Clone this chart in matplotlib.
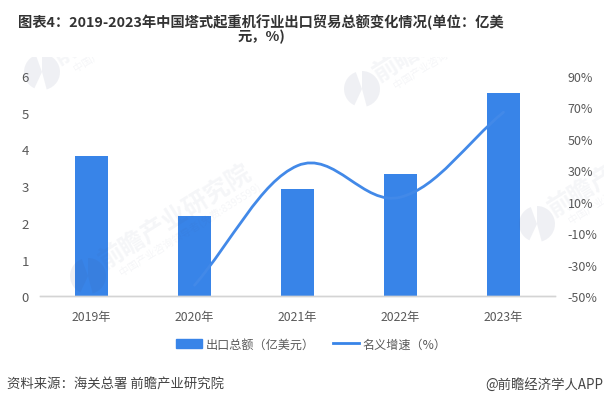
import numpy as np
import matplotlib
matplotlib.use("Agg")
import matplotlib.pyplot as plt
from matplotlib.patches import Wedge, Rectangle, PathPatch
from matplotlib.path import Path
from matplotlib.lines import Line2D

plt.rcParams['font.family'] = ['Noto Sans CJK SC', 'DejaVu Sans']

# ====== DATA ======
years = ['2019年', '2020年', '2021年', '2022年', '2023年']
export_total = [3.82, 2.18, 2.92, 3.33, 5.54]
growth_years = [1, 2, 3, 4]
growth_rate = [-43, 33, 13, 67]
left_ticks = [0, 1, 2, 3, 4, 5, 6]
right_ticks = [-50, -30, -10, 10, 30, 50, 70, 90]

title_text = '图表4：2019-2023年中国塔式起重机行业出口贸易总额变化情况(单位：亿美\n元，%)'
source_text = '资料来源：海关总署 前瞻产业研究院'
credit_text = '@前瞻经济学人APP'

BLUE = '#3884e8'
TEXT = '#595959'
W, H = 604, 406

fig = plt.figure(figsize=(W / 100, H / 100), dpi=100)
ax = fig.add_axes([40 / W, 1 - 297.3 / H, 515 / W, 220.3 / H])
ax2 = ax.twinx()

# bars
ax.bar(range(len(years)), export_total, width=0.32, color=BLUE, zorder=2)
ax.set_xlim(-0.5, 4.5)
ax.set_ylim(0, 6)
ax.set_xticks(range(len(years)))
ax.set_xticklabels(years, fontsize=8.8, color=TEXT)
ax.set_yticks(left_ticks)
ax.tick_params(axis='y', length=0, labelsize=9.5, labelcolor=TEXT, pad=8)
ax.tick_params(axis='x', length=0, pad=10)

ax2.set_ylim(-50, 90)
ax2.set_yticks(right_ticks)
ax2.set_yticklabels([f'{v}%' for v in right_ticks], fontsize=9, color=TEXT)
ax2.tick_params(axis='y', length=0, pad=9)

for a in (ax, ax2):
    for s in ('top', 'left', 'right'):
        a.spines[s].set_visible(False)
    a.spines['bottom'].set_color('#d4d4d4')
    a.spines['bottom'].set_linewidth(1.0)

# smooth growth line: cubic segments through the data points
xs = np.array(growth_years, dtype=float)
ys = np.array(growth_rate, dtype=float)
tx = np.gradient(xs)
ty = np.gradient(ys)
verts = [(xs[0], ys[0])]
codes = [Path.MOVETO]
k = 0.36
for i in range(len(xs) - 1):
    verts += [(xs[i] + k * tx[i], ys[i] + k * ty[i]),
              (xs[i + 1] - k * tx[i + 1], ys[i + 1] - k * ty[i + 1]),
              (xs[i + 1], ys[i + 1])]
    codes += [Path.CURVE4] * 3
ax2.add_patch(PathPatch(Path(verts, codes), fill=False, edgecolor='#4289e8',
                        linewidth=2.0, capstyle='round', zorder=3))

# legend
handles = [Rectangle((0, 0), 1, 1, color=BLUE),
           Line2D([0], [0], color=BLUE, linewidth=2.0)]
leg = fig.legend(handles, ['出口总额（亿美元）', '名义增速（%）'], ncol=2, frameon=False,
                 loc='center', bbox_to_anchor=(311 / W, 1 - 345 / H), fontsize=8.7,
                 labelcolor=TEXT, handlelength=2.2, handleheight=0.7,
                 handletextpad=0.25, columnspacing=1.5)

# title and footer
fig.text(261 / W, 1 - 29.5 / H, title_text, ha='center', va='center', fontsize=10.3,
         fontweight='bold', color='#333333', linespacing=1.0)
fig.text(7 / W, 1 - 385 / H, source_text, ha='left', va='center', fontsize=9.6, color='#444444')
fig.text(603 / W, 1 - 385 / H, credit_text, ha='right', va='center', fontsize=9.6, color='#444444')

# watermarks, drawn in pixel coordinates and clipped to the picture area
wm = fig.add_axes([0, 0, 1, 1 - 58 / H], zorder=5)
wm.set_xlim(0, W)
wm.set_ylim(H, 58)
wm.axis('off')
WM = '#3c4a78'
for cx, cy in [(42, 73), (362, 90), (537, 225), (88, 277)]:
    wm.add_patch(Wedge((cx, cy), 18, 115, 250, facecolor=WM, alpha=0.08, lw=0))
    wm.add_patch(Wedge((cx, cy), 18, 270, 75, facecolor=WM, alpha=0.08, lw=0))
    wm.text(cx + 14, cy - 13, '前瞻产业研究院', fontsize=18, fontweight='bold', color=WM, alpha=0.05,
            rotation=32, rotation_mode='anchor', ha='left', va='center', clip_on=True)
    wm.text(cx + 32, cy - 4, '中国产业咨询领导者(免费:8395599)', fontsize=7.5, color=WM, alpha=0.05,
            rotation=32, rotation_mode='anchor', ha='left', va='center', clip_on=True)

fig.savefig('out.png', dpi=100)
